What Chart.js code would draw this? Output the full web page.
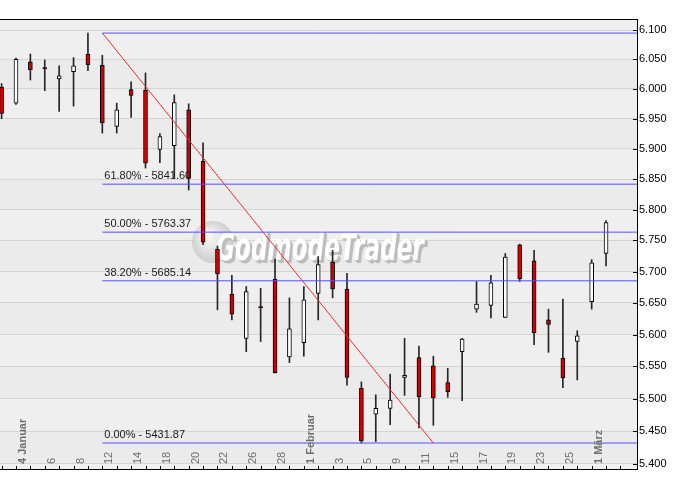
<!DOCTYPE html>
<html>
<head>
<meta charset="utf-8">
<script src="https://cdn.jsdelivr.net/npm/chart.js@4"></script>
<style>
html, body { margin: 0; padding: 0; background: #fff; }
</style>
</head>
<body>
<canvas id="chart" width="691" height="479"></canvas>
<script>
'use strict';

// trading days, 30.12.2009 .. 02.03.2010
const days = ['30.12.', '04.01.', '05.01.', '06.01.', '07.01.', '08.01.', '11.01.', '12.01.', '13.01.', '14.01.',
    '15.01.', '18.01.', '19.01.', '20.01.', '21.01.', '22.01.', '25.01.', '26.01.', '27.01.', '28.01.',
    '29.01.', '01.02.', '02.02.', '03.02.', '04.02.', '05.02.', '08.02.', '09.02.', '10.02.', '11.02.',
    '12.02.', '15.02.', '16.02.', '17.02.', '18.02.', '19.02.', '22.02.', '23.02.', '24.02.', '25.02.',
    '26.02.', '01.03.', '02.03.'];
const tickLabels = ['', '4 Januar', '', '6', '', '8', '', '12', '', '14',
    '', '18', '', '20', '', '22', '', '26', '', '28',
    '', '1 Februar', '', '3', '', '5', '', '9', '', '11',
    '', '15', '', '17', '', '19', '', '23', '', '25',
    '', '1 März', ''];

const open  = [6003, 5976, 6046, 6036, 6017, 6029, 6059, 6040, 5937, 5999,
    5998, 5899, 5905, 5965, 5879, 5736, 5664, 5594, 5644, 5688,
    5565, 5587, 5665, 5715, 5672, 5516, 5476, 5485, 5533, 5564,
    5551, 5525, 5573, 5640, 5646, 5627, 5743, 5717, 5623, 5563,
    5589, 5652, 5729];
const high  = [6009, 6052, 6059, 6049, 6039, 6053, 6094.87, 6057, 5976, 6012,
    6027, 5925, 5990, 5975, 5910, 5741, 5694, 5676, 5673, 5720,
    5658, 5676, 5724, 5734, 5697, 5526, 5506, 5538, 5594, 5582,
    5566, 5547, 5594, 5684, 5694, 5729, 5744, 5734, 5640, 5656,
    5606, 5719, 5782];
const low   = [5950, 5974, 6015, 5997, 5962, 5971, 6031, 5926, 5926, 5952,
    5868, 5877, 5851, 5832, 5743, 5639, 5623, 5573, 5589, 5540,
    5556, 5566, 5623, 5658, 5521, 5431.87, 5434, 5460, 5505, 5455,
    5459, 5502, 5497, 5635, 5626, 5627, 5684, 5584, 5572, 5517,
    5529, 5640, 5709];
const close = [5959, 6050, 6032, 6034, 6022, 6039, 6041, 5943, 5965, 5989,
    5876, 5920, 5977, 5851, 5747, 5696, 5632, 5668, 5642, 5540,
    5609, 5655, 5711, 5672, 5533, 5435, 5485, 5498, 5536, 5503,
    5501, 5511, 5593, 5648, 5682, 5723, 5688, 5603, 5616, 5532,
    5598, 5714, 5779];

// Fibonacci retracement
const fibNames  = ['0.00%', '38.20%', '50.00%', '61.80%', ''];
const fibLevels = [5431.87, 5685.14, 5763.37, 5841.60, 6094.87];
const fibStart = 7;
const trendFrom = [7, 6094.87];
const trendTo = [30, 5431.87];

const yTicks = [5400, 5450, 5500, 5550, 5600, 5650, 5700, 5750, 5800, 5850, 5900, 5950, 6000, 6050, 6100];

const FONT = '"Liberation Sans", Arial, sans-serif';

function fmt(v) {
    return Math.floor(v / 1000) + '.' + String(Math.round(v % 1000)).padStart(3, '0');
}

const decor = {
    id: 'decor',
    beforeDraw(chart) {
        const c = chart.ctx, a = chart.chartArea, ys = chart.scales.y;
        c.save();
        c.fillStyle = '#fff';
        c.fillRect(0, 0, chart.width, chart.height);
        c.fillStyle = '#efefef';
        c.fillRect(0, a.top, a.right, a.bottom - a.top);
        // alternating bands between price lines
        c.fillStyle = '#ebebeb';
        for (let i = 0; i < yTicks.length - 1; i += 2) {
            const y0 = ys.getPixelForValue(yTicks[i + 1]);
            const y1 = ys.getPixelForValue(yTicks[i]);
            c.fillRect(0, y0, a.right, y1 - y0);
        }
        c.restore();
    },
    beforeDatasetsDraw(chart) {
        // watermark
        const c = chart.ctx;
        c.save();
        const g = c.createRadialGradient(207, 235, 3, 213, 242, 22);
        g.addColorStop(0, '#f8f8f8');
        g.addColorStop(1, '#c6c6c6');
        c.fillStyle = g;
        c.globalAlpha = 0.85;
        c.beginPath();
        c.arc(213, 242, 21, 0, Math.PI * 2);
        c.fill();
        c.globalAlpha = 1;
        c.font = 'italic bold 37px "DejaVu Sans", ' + FONT;
        c.textBaseline = 'alphabetic';
        c.fillStyle = '#bdbdbd';
        for (let k = 3; k >= 1; k--) {
            c.fillText('GodmodeTrader', 216 + k, 260 + k, 208);
        }
        c.fillStyle = '#fff';
        c.fillText('GodmodeTrader', 216, 260, 208);
        c.restore();
    },
    afterDraw(chart) {
        const c = chart.ctx, a = chart.chartArea;
        const xs = chart.scales.x, ys = chart.scales.y;
        c.save();
        c.strokeStyle = '#000';
        c.lineWidth = 1;
        c.beginPath();
        c.moveTo(0, a.top + 0.5);
        c.lineTo(a.right + 1, a.top + 0.5);
        // inner ticks on the price axis
        yTicks.forEach(v => {
            const py = Math.round(ys.getPixelForValue(v)) + 0.5;
            c.moveTo(a.right - 4, py);
            c.lineTo(a.right, py);
        });
        // day ticks
        for (let i = 0; i <= days.length; i++) {
            const px = Math.round(xs.getPixelForValue(i)) + 0.5;
            c.moveTo(px, a.bottom - 3);
            c.lineTo(px, a.bottom);
        }
        c.stroke();

        // day labels, rotated
        tickLabels.forEach((t, i) => {
            if (!t) return;
            const px = xs.getPixelForValue(i) + 7;
            c.save();
            c.translate(px, a.bottom - 5);
            c.rotate(-Math.PI / 2);
            c.textAlign = 'left';
            c.textBaseline = 'middle';
            c.font = (t.indexOf(' ') > 0 ? 'bold ' : '') + '11px ' + FONT;
            c.fillStyle = '#6e6e6e';
            c.fillText(t, 0, 0);
            c.restore();
        });

        // fib labels
        c.font = '11px ' + FONT;
        c.fillStyle = '#1a1a1a';
        c.textAlign = 'left';
        c.textBaseline = 'alphabetic';
        fibLevels.forEach((v, i) => {
            if (!fibNames[i]) return;
            const py = ys.getPixelForValue(v);
            c.fillText(fibNames[i] + ' - ' + v.toFixed(2), xs.getPixelForValue(fibStart) + 2, py - 5);
        });
        c.restore();
    }
};

const wickData = days.map((d, i) => ({ x: i, y: [low[i], high[i]] }));
const bodyData = days.map((d, i) => ({ x: i, y: [open[i], close[i]] }));
const bodyColors = days.map((d, i) => close[i] < open[i] ? '#d60000' : '#ffffff');

const fibSets = fibLevels.map(v => ({
    type: 'line',
    data: [{ x: fibStart, y: v }, { x: days.length + 3, y: v }],
    borderColor: '#5252ff',
    borderWidth: 1,
    pointRadius: 0,
    order: 0,
}));

const ctx2d = document.getElementById('chart').getContext('2d');
const chart = new Chart(ctx2d, {
    type: 'bar',
    data: {
        datasets: [
            {
                data: wickData,
                backgroundColor: '#262626',
                barThickness: 1,
                grouped: false,
                order: 2,
            },
            {
                data: bodyData,
                backgroundColor: bodyColors,
                borderColor: '#000',
                borderWidth: 1,
                borderSkipped: false,
                barThickness: 4,
                grouped: false,
                order: 1,
            },
            ...fibSets,
            {
                type: 'line',
                data: [{ x: trendFrom[0], y: trendFrom[1] }, { x: trendTo[0], y: trendTo[1] }],
                borderColor: '#ff2a2a',
                borderWidth: 1,
                pointRadius: 0,
                order: 0,
            },
        ],
    },
    options: {
        responsive: false,
        animation: false,
        layout: { padding: { top: 19, left: 0, right: 0, bottom: 0 } },
        plugins: {
            legend: { display: false },
            tooltip: { enabled: false },
        },
        scales: {
            x: {
                type: 'linear',
                offset: false,
                min: -0.11,
                max: 44.15,
                ticks: { display: false },
                grid: { display: false, drawTicks: false, offset: false },
                border: { display: true, color: '#000' },
                afterFit: (s) => { s.height = 10; },
            },
            y: {
                type: 'logarithmic',
                position: 'right',
                min: 5392.4,
                max: 6119,
                bounds: 'data',
                afterBuildTicks: (s) => { s.ticks = yTicks.map(v => ({ value: v })); },
                afterFit: (s) => { s.width = 54; },
                ticks: {
                    callback: (v) => fmt(v),
                    color: '#000',
                    padding: 2,
                    font: { family: FONT, size: 11 },
                    autoSkip: false,
                },
                grid: { color: '#d5d5d5', drawTicks: false },
                border: { display: true, color: '#000' },
            },
        },
    },
    plugins: [decor],
});
</script>
</body>
</html>
